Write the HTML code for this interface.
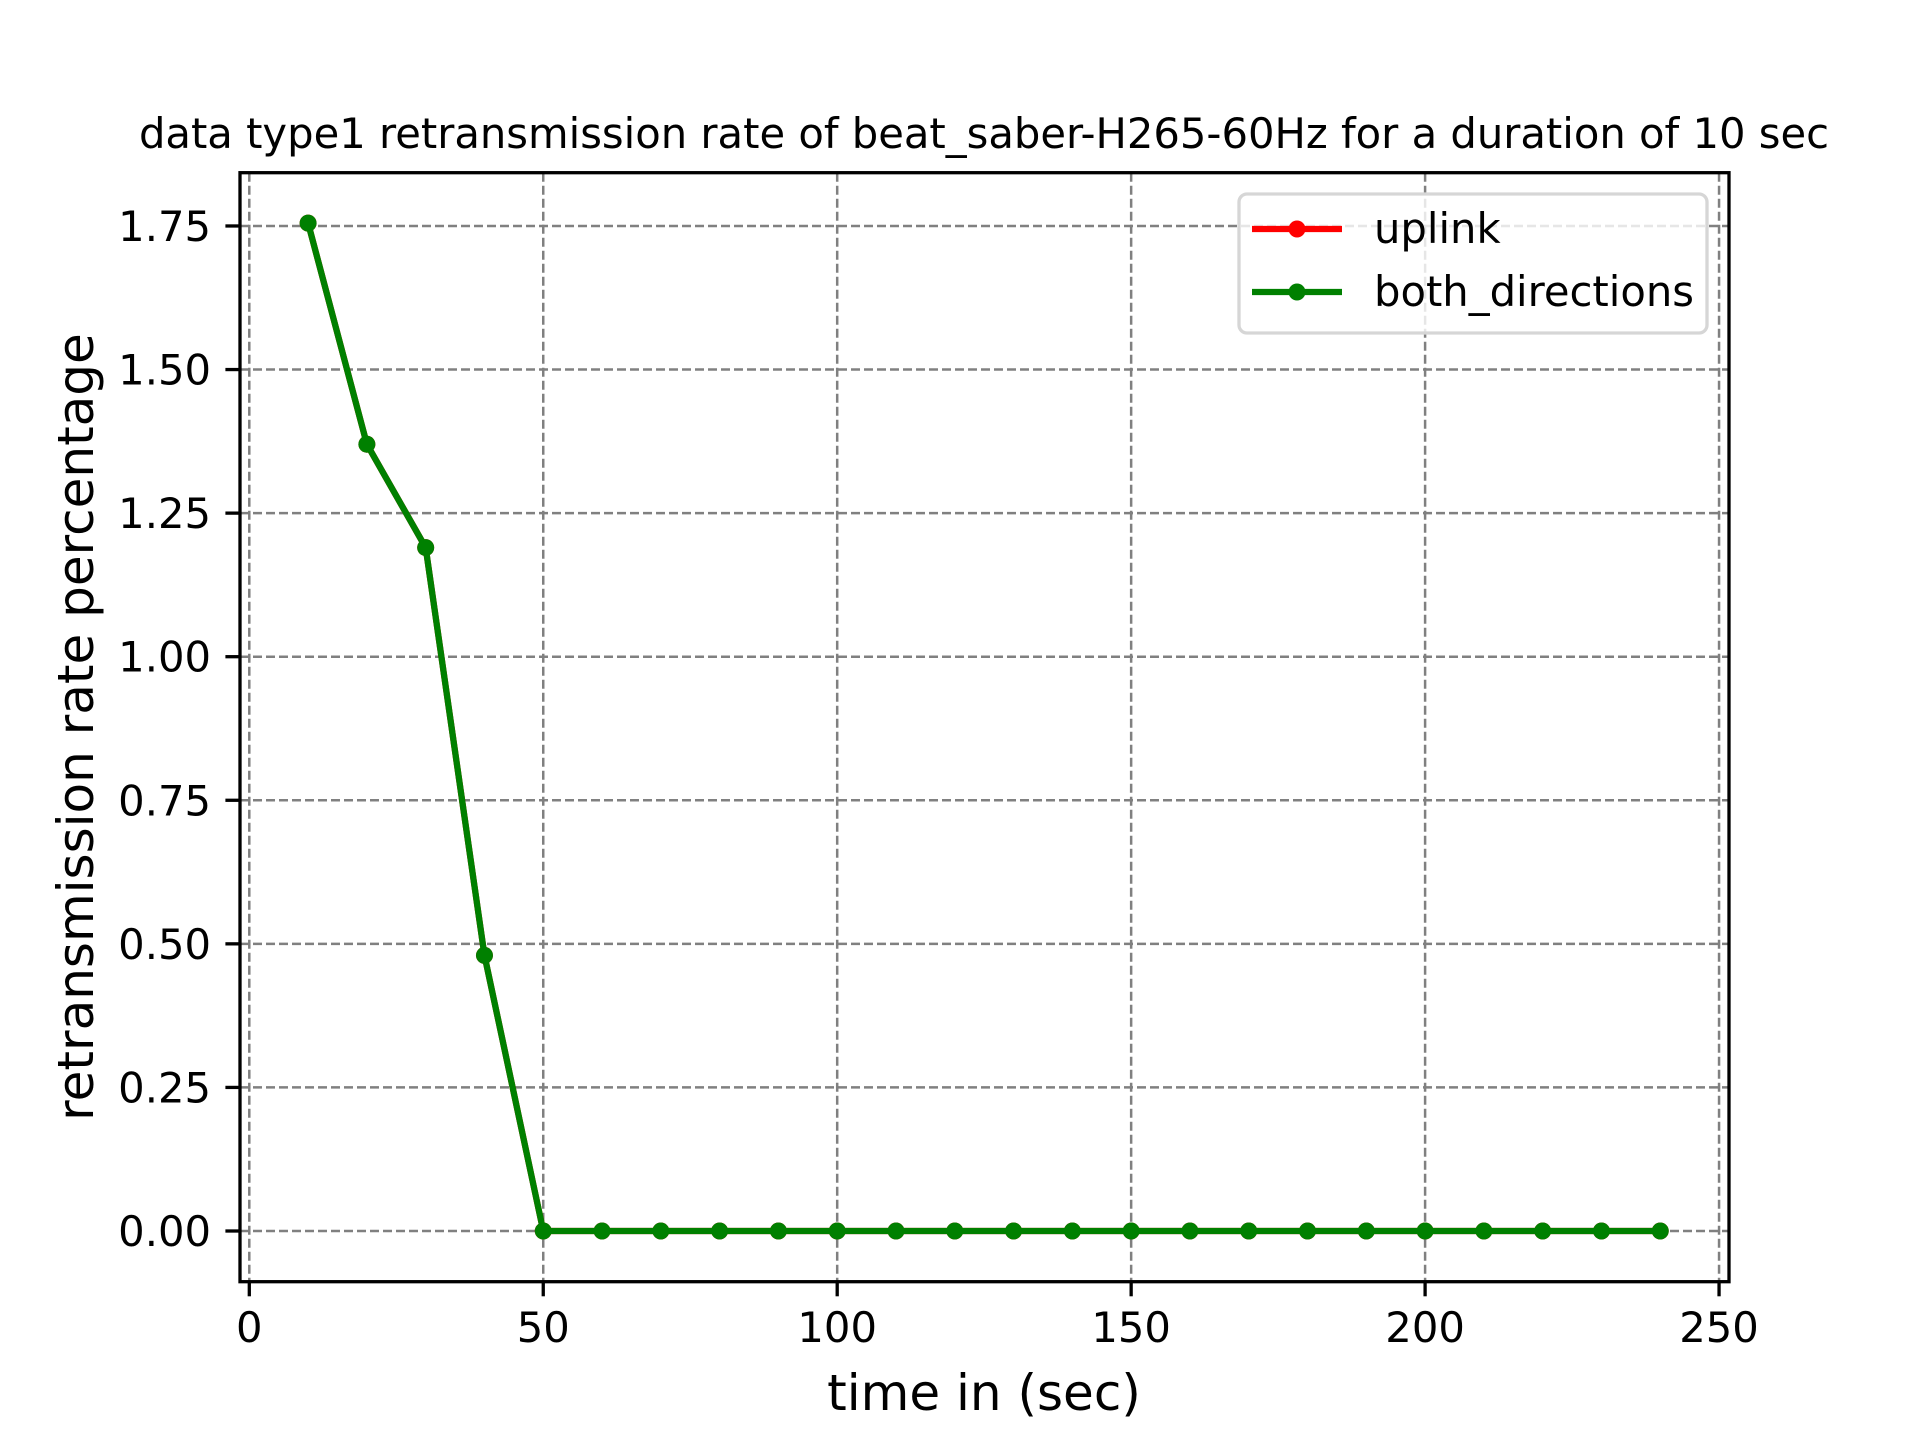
<!DOCTYPE html>
<html><head><meta charset="utf-8"><style>
html,body{margin:0;padding:0;background:#fff;}
svg{display:block;font-family:"DejaVu Sans","Liberation Sans",sans-serif;}
</style></head><body>
<svg id="chart" width="1920" height="1440" viewBox="0 0 1920 1440" xmlns="http://www.w3.org/2000/svg">
<rect width="1920" height="1440" fill="#fff"/>
<g id="grid"></g>
<g id="series"></g>
<rect x="240" y="172.7" width="1489" height="1109" fill="none" stroke="#000" stroke-width="3.3"/>
<g id="ticks"></g>
<text x="984" y="148" font-size="41.7" text-anchor="middle">data type1 retransmission rate of beat_saber-H265-60Hz for a duration of 10 sec</text>
<text x="984" y="1410" font-size="50" text-anchor="middle">time in (sec)</text>
<text x="0" y="0" font-size="50" text-anchor="middle" transform="translate(93,727) rotate(-90)">retransmission rate percentage</text>
<g>
<rect x="1239" y="194" width="468" height="139" rx="8" fill="#fff" fill-opacity="0.8" stroke="#d6d6d6" stroke-width="3.3"/>
<line x1="1252" y1="229" x2="1342" y2="229" stroke="#ff0000" stroke-width="6.25"/>
<circle cx="1297" cy="229" r="8.5" fill="#ff0000"/>
<text x="1374" y="243" font-size="41.7">uplink</text>
<line x1="1252" y1="292" x2="1342" y2="292" stroke="#008000" stroke-width="6.25"/>
<circle cx="1297" cy="292" r="8.5" fill="#008000"/>
<text x="1374" y="306" font-size="41.7">both_directions</text>
</g>
</svg>
<script>
const xValues = [10,20,30,40,50,60,70,80,90,100,110,120,130,140,150,160,170,180,190,200,210,220,230,240];
const uplinkValues = [1.755,1.37,1.19,0.48,0,0,0,0,0,0,0,0,0,0,0,0,0,0,0,0,0,0,0,0];
const bothValues = [1.755,1.37,1.19,0.48,0,0,0,0,0,0,0,0,0,0,0,0,0,0,0,0,0,0,0,0];
const xTicks = [0,50,100,150,200,250];
const yTicks = [0,0.25,0.5,0.75,1.0,1.25,1.5,1.75];
const yTickLabels = ["0.00","0.25","0.50","0.75","1.00","1.25","1.50","1.75"];

const NS = "http://www.w3.org/2000/svg";
function xs(v){ return 249.3 + v * 5.879; }
function ys(v){ return 1231 - v * 574.3; }
function mk(tag, attrs, parent){
  const e = document.createElementNS(NS, tag);
  for (const k in attrs) e.setAttribute(k, attrs[k]);
  parent.appendChild(e);
  return e;
}
const grid = document.getElementById('grid');
const ticks = document.getElementById('ticks');
const series = document.getElementById('series');

xTicks.forEach(t => {
  const g = mk('line', {x1: xs(t), x2: xs(t), y1: 172.7, y2: 1281.7, stroke: '#808080', 'stroke-width': 2.5, 'stroke-dasharray': '9,4'}, grid);
  
  
  const tk = mk('line', {x1: xs(t), x2: xs(t), y1: 1281.7, y2: 1296.3, stroke: '#000', 'stroke-width': 3.3}, ticks);
  
  
  const tx = mk('text', {x: xs(t), y: 1342, 'font-size': 41.7, 'text-anchor': 'middle'}, ticks);
  tx.textContent = String(t);
  
  
});
yTicks.forEach((t, i) => {
  const g = mk('line', {x1: 240, x2: 1729, y1: ys(t), y2: ys(t), stroke: '#808080', 'stroke-width': 2.5, 'stroke-dasharray': '9,4'}, grid);
  
  
  const tk = mk('line', {x1: 225.4, x2: 240, y1: ys(t), y2: ys(t), stroke: '#000', 'stroke-width': 3.3}, ticks);
  
  
  const tx = mk('text', {x: 211, y: ys(t) + 15, 'font-size': 41.7, 'text-anchor': 'end'}, ticks);
  tx.textContent = yTickLabels[i];
  
  
});

function drawSeries(vals, color, name){
  const pts = vals.map((v, i) => xs(xValues[i]) + ',' + ys(v)).join(' ');
  const pl = mk('polyline', {points: pts, fill: 'none', stroke: color, 'stroke-width': 6.25, 'stroke-linejoin': 'round'}, series);
  
  
  vals.forEach((v, i) => {
    const c = mk('circle', {cx: xs(xValues[i]), cy: ys(v), r: 8.5, fill: color}, series);
    
    
  });
}
drawSeries(uplinkValues, '#ff0000', 'uplink');
drawSeries(bothValues, '#008000', 'both-directions');
</script>
</body></html>
